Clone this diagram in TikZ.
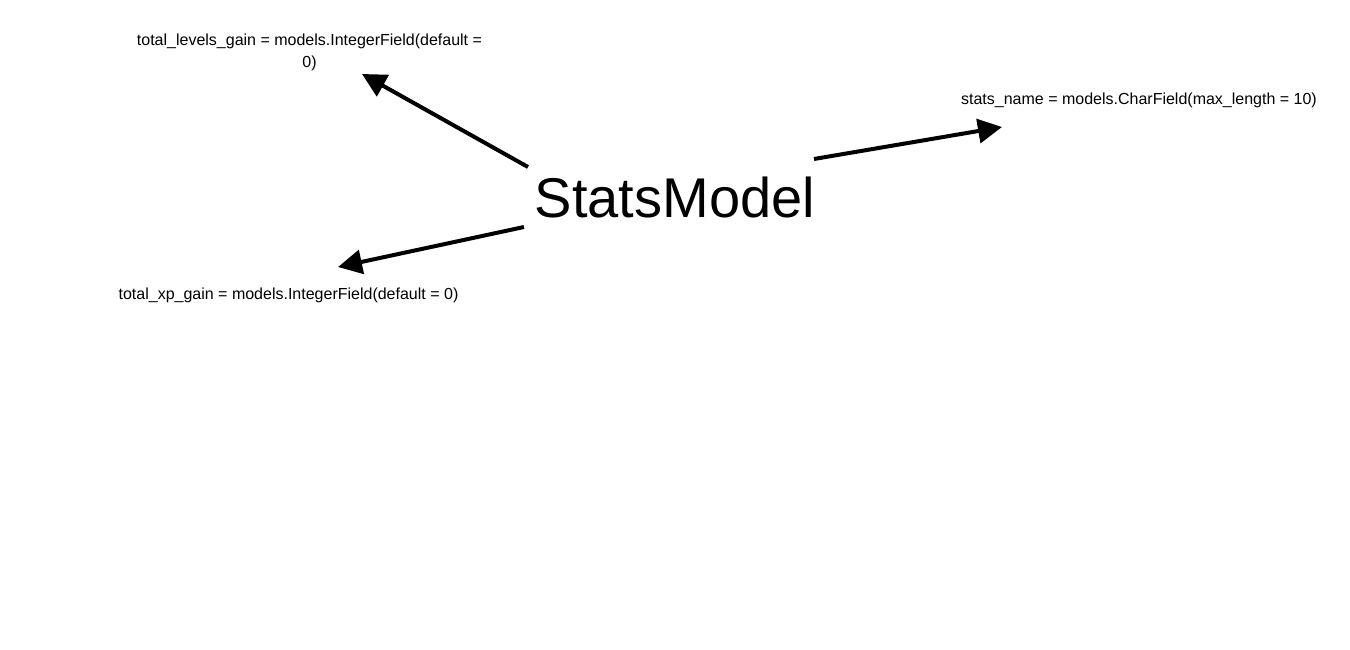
\documentclass[tikz,border=0pt]{standalone}
\usepackage{fontspec}
\setmainfont{Liberation Sans}
\usetikzlibrary{arrows.meta}
\begin{document}
\begin{tikzpicture}[x=1pt,y=-1pt,
  field/.style={inner sep=0pt, font=\fontsize{16}{22}\selectfont, align=center},
  link/.style={line width=4pt, -{Triangle[length=24pt,width=24pt]}}]
\useasboundingbox (0,0) rectangle (1350,650);
\node[inner sep=0pt, font=\fontsize{56}{60}\selectfont] (main) at (675,197) {StatsModel};
\node[field] (levels) at (309.5,52.5) {total\_levels\_gain = models.IntegerField(default =\\0)};
\node[field] (name) at (1139,100) {stats\_name = models.CharField(max\_length = 10)};
\node[field] (xp) at (288.5,295) {total\_xp\_gain = models.IntegerField(default = 0)};
\coordinate (s1) at (528,167);
\coordinate (e1) at (362,74);
\coordinate (s2) at (814,159);
\coordinate (e2) at (1002,127);
\coordinate (s3) at (524,227);
\coordinate (e3) at (338,267);
\draw[link] (s1) -- (e1);
\draw[link] (s2) -- (e2);
\draw[link] (s3) -- (e3);
\end{tikzpicture}
\end{document}
